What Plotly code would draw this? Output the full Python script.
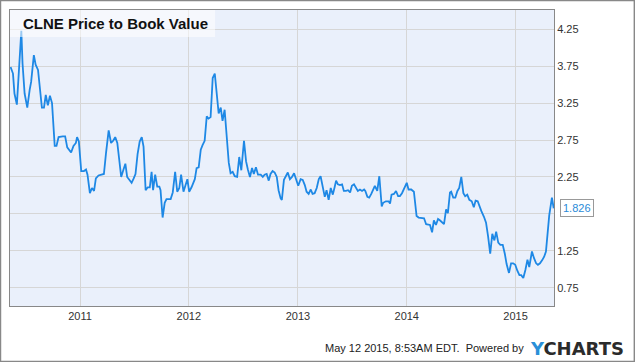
import pandas as pd
import plotly.graph_objects as go

title_text = "CLNE Price to Book Value"
start_date = "2010-05-13"

# days since start_date
day_offset = [
    0, 8, 13, 21, 36, 40, 47, 56, 64, 69, 78, 84, 92, 98, 105, 112, 118, 125, 132, 139,
    148, 154, 161, 175, 183, 190, 197, 203, 211, 219, 223, 229, 237, 246, 253, 258, 266, 273, 280, 286,
    295, 303,
    313, 320, 329, 337, 344, 351, 358, 364, 371, 378, 385, 391, 398, 406, 413, 419, 426, 433, 440, 446,
    453, 460, 467, 473, 478, 485, 492, 499, 503, 510, 517, 523, 537, 544, 552, 559, 566, 572, 580, 586,
    593, 599, 607, 618,
    624, 631, 638, 644, 651, 658, 664, 671, 678, 685, 691, 698, 705, 711, 718, 725, 732, 738, 745, 752,
    760, 767, 774, 783, 790, 796, 803, 810, 816, 823, 830, 839, 846, 852, 859, 866, 872, 879, 886, 893,
    899, 906, 910, 917,
    924, 930, 937, 944, 951, 957, 965, 973, 980, 987, 993, 1000, 1007, 1013, 1020, 1027, 1034, 1040, 1047, 1054,
    1060, 1067, 1074, 1081, 1087, 1092, 1098, 1105, 1112, 1118, 1125, 1132, 1139, 1145, 1152, 1159, 1165, 1172, 1179, 1186,
    1190, 1197, 1203, 1210, 1217, 1222,
    1230, 1237, 1245, 1250, 1259, 1268, 1273, 1278, 1286, 1293, 1300, 1306, 1313, 1321, 1329, 1335, 1344, 1353, 1362, 1369,
    1380, 1387, 1394, 1403, 1407, 1414, 1420, 1427, 1434, 1441, 1447, 1454, 1461, 1467, 1474, 1478, 1485, 1492, 1499, 1505,
    1512,
    1519, 1525, 1532, 1539, 1547, 1554, 1560, 1567, 1572, 1579, 1588, 1595, 1602, 1609, 1616, 1623, 1629, 1636, 1643, 1651,
    1658, 1664, 1672, 1679, 1686, 1693, 1700, 1707, 1713, 1720, 1727, 1734, 1740, 1749, 1756, 1763, 1769, 1776, 1783, 1790,
    1796, 1801, 1807, 1816, 1822,
]

pb_value = [
    3.74, 3.65, 3.38, 3.23, 4.23, 3.79, 3.38, 3.19, 3.43, 3.54, 3.90, 3.77, 3.70, 3.43, 3.19, 3.19, 3.36, 3.22, 3.35, 3.25,
    2.67, 2.67, 2.79, 2.80, 2.80, 2.65, 2.61, 2.58, 2.67, 2.71, 2.79, 2.73, 2.33, 2.33, 2.35, 2.28, 2.03, 2.10, 2.06, 2.23,
    2.27, 2.28,
    2.29, 2.57, 2.88, 2.71, 2.74, 2.79, 2.71, 2.50, 2.25, 2.34, 2.43, 2.25, 2.21, 2.17, 2.23, 2.29, 2.56, 2.73, 2.79, 2.66,
    2.07, 2.11, 2.11, 2.32, 2.07, 2.28, 2.12, 2.12, 2.07, 1.70, 1.90, 1.95, 1.95, 2.04, 2.32, 2.05, 2.10, 2.28, 2.05, 2.12,
    2.22, 2.05, 2.11, 2.22,
    2.37, 2.38, 2.62, 2.68, 2.74, 3.07, 3.04, 3.06, 3.59, 3.65, 3.43, 3.11, 3.19, 3.01, 3.16, 2.77, 2.44, 2.30, 2.32, 2.26,
    2.25, 2.52, 2.34, 2.74, 2.46, 2.35, 2.25, 2.37, 2.29, 2.38, 2.28, 2.28, 2.25, 2.28, 2.29, 2.20, 2.29, 2.33, 2.31, 2.25,
    2.07, 1.96, 1.94, 2.21,
    2.26, 2.31, 2.22, 2.25, 2.30, 2.22, 2.13, 2.22, 2.21, 2.14, 2.05, 2.02, 2.08, 2.02, 2.03, 2.10, 2.22, 2.26, 2.13, 1.98,
    2.07, 1.94, 2.10, 2.01, 2.11, 2.20, 2.15, 2.14, 2.15, 2.06, 2.06, 2.07, 2.04, 2.13, 2.15, 2.10, 2.06, 2.08, 2.06, 2.08,
    2.06, 1.98, 1.97, 2.02, 2.08, 2.13,
    2.06, 2.26, 1.85, 1.90, 1.92, 1.92, 1.89, 2.01, 2.02, 2.06, 1.99, 1.99, 2.03, 2.10, 2.17, 2.08, 2.08, 2.05, 1.72, 1.70,
    1.70, 1.69, 1.61, 1.61, 1.60, 1.50, 1.66, 1.60, 1.68, 1.66, 1.63, 1.61, 1.81, 1.76, 2.04, 2.05, 1.97, 1.97, 2.06, 2.10,
    2.25,
    2.03, 1.99, 2.01, 1.94, 1.92, 1.84, 1.93, 1.92, 1.86, 1.79, 1.71, 1.63, 1.44, 1.21, 1.48, 1.39, 1.51, 1.36, 1.33, 1.33,
    1.21, 1.07, 0.95, 1.08, 1.08, 1.06, 0.98, 0.92, 0.92, 0.88, 0.99, 1.13, 1.03, 1.24, 1.15, 1.08, 1.06, 1.08, 1.12, 1.17,
    1.24, 1.49, 1.73, 1.97, 1.826,
]

y_ticks = [0.75, 1.25, 1.75, 2.25, 2.75, 3.25, 3.75, 4.25]
# 1.75 is hidden behind the last-value flag in the original
y_tick_labels = ["0.75", "1.25", "", "2.25", "2.75", "3.25", "3.75", "4.25"]
x_ticks = ["2011-01-01", "2012-01-01", "2013-01-01", "2014-01-01", "2015-01-01"]
x_tick_labels = ["2011", "2012", "2013", "2014", "2015"]
last_label = "1.826"
footer_text = "May 12 2015, 8:53AM EDT.  Powered by"

dates = pd.Timestamp(start_date) + pd.to_timedelta(day_offset, unit="D")
last_date = dates[-1].strftime("%Y-%m-%d")

LINE = "#1e88e5"
FONT = "Liberation Sans, Arial, sans-serif"

fig = go.Figure()
fig.add_trace(go.Scatter(
    x=dates, y=pb_value, mode="lines",
    line=dict(color=LINE, width=1.8),
    hoverinfo="skip", showlegend=False,
))

x_range = [dates[0] - pd.Timedelta(days=2), dates[-1] + pd.Timedelta(days=1)]

fig.update_layout(
    width=635, height=362,
    margin=dict(l=10, r=81, t=10, b=56, autoexpand=False),
    paper_bgcolor="white",
    plot_bgcolor="#eaf0fb",
    font=dict(family=FONT, size=11, color="#333333"),
    xaxis=dict(
        type="date", range=x_range,
        tickvals=x_ticks, ticktext=x_tick_labels,
        showgrid=True, gridcolor="#d6d6d6", gridwidth=1,
        showline=True, linecolor="#888888", linewidth=1, mirror=True,
        ticks="", tickfont=dict(family=FONT, size=11, color="#333333"),
        zeroline=False, fixedrange=True,
    ),
    yaxis=dict(
        side="right", range=[0.502, 4.511],
        tickvals=y_ticks, ticktext=y_tick_labels,
        showgrid=True, gridcolor="#d6d6d6", gridwidth=1,
        showline=True, linecolor="#888888", linewidth=1, mirror=True,
        ticks="", ticklen=0, tickfont=dict(family=FONT, size=11, color="#333333"),
        zeroline=False, fixedrange=True,
    ),
    shapes=[
        # title backdrop
        dict(type="rect", xref="paper", yref="paper", x0=0, x1=0.377, y0=0.909, y1=1,
             fillcolor="rgba(255,255,255,0.55)", line=dict(width=0), layer="above"),
        # outer frame
        dict(type="rect", xref="paper", yref="paper", x0=-0.0175, x1=1.1477, y0=-0.1875, y1=1.0321,
             fillcolor="rgba(0,0,0,0)", line=dict(color="#888888", width=1.5), layer="above"),
        # pointer of the last-value flag
        dict(type="path", xref="x", yref="y", xsizemode="pixel", ysizemode="pixel",
             xanchor=last_date, yanchor=pb_value[-1],
             path="M 1,0 L 7,-5 L 7,5 Z",
             fillcolor="white", line=dict(color="#999999", width=1), layer="above"),
    ],
    annotations=[
        dict(text=f"<b>{title_text}</b>", xref="paper", yref="paper", x=0.0202, y=0.955,
             xanchor="left", yanchor="middle", showarrow=False,
             font=dict(family=FONT, size=15, color="#111111")),
        dict(text=last_label, xref="x", yref="y", x=last_date, y=pb_value[-1],
             xanchor="left", yanchor="middle", xshift=6, showarrow=False,
             font=dict(family=FONT, size=11, color="#2a8ad8"),
             bgcolor="white", bordercolor="#999999", borderwidth=1, borderpad=2),
        dict(text=footer_text, xref="paper", yref="paper", x=0.949, y=-0.142,
             xanchor="right", yanchor="middle", showarrow=False,
             font=dict(family=FONT, size=11, color="#222222")),
        dict(text="<span style='color:#2a8fd8'>Y</span>CHARTS", xref="paper", yref="paper",
             x=0.952, y=-0.142, xanchor="left", yanchor="middle", showarrow=False,
             font=dict(family="DejaVu Sans, sans-serif", size=18, color="#2b2b2b", weight="bold")),
    ],
)

fig.write_html("out.html", config={"displayModeBar": False},
               post_script="document.body.style.margin='0';document.body.style.overflow='hidden';")
